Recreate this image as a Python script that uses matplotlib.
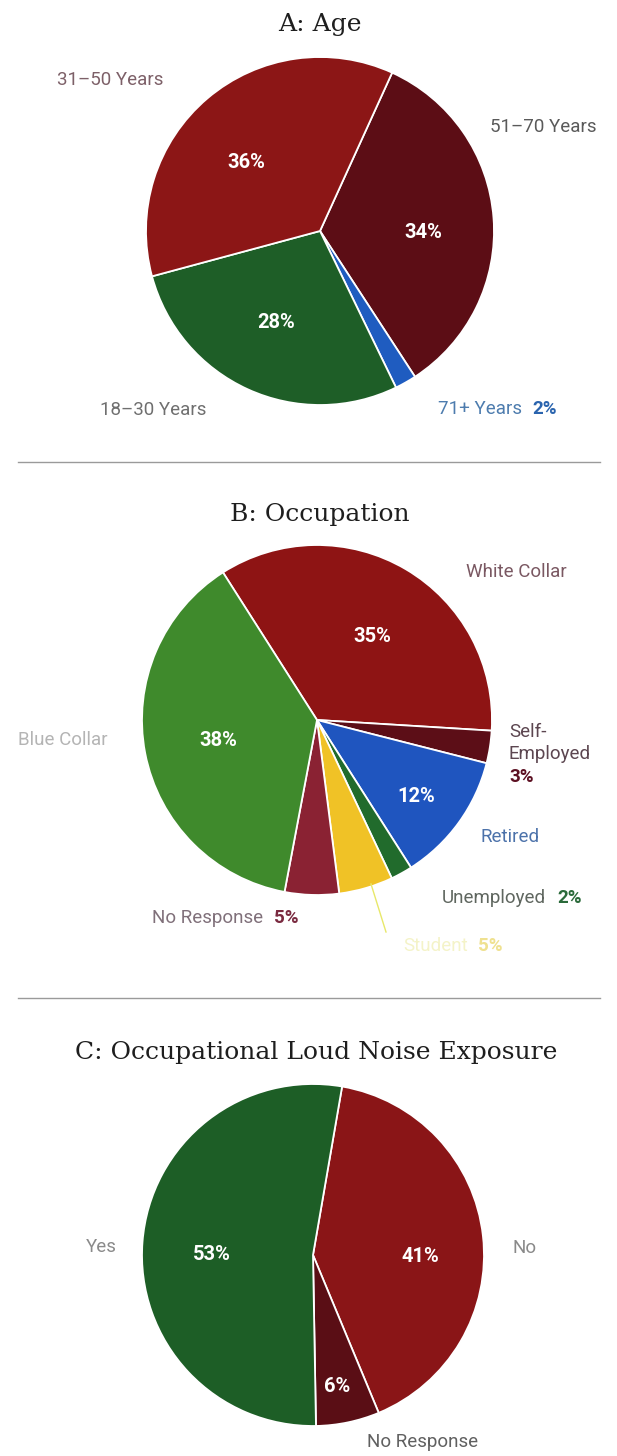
import matplotlib.pyplot as plt
from matplotlib.lines import Line2D

# A: Age
age_labels = ["51–70 Years", "71+ Years", "18–30 Years", "31–50 Years"]
age_values = [34, 2, 28, 36]
age_colors = ["#5c0d15", "#1f5cc0", "#1e5e27", "#8c1616"]

# B: Occupation
occ_labels = ["White Collar", "Self-Employed", "Retired", "Unemployed",
              "Student", "No Response", "Blue Collar"]
occ_values = [35, 3, 12, 2, 5, 5, 38]
occ_colors = ["#8e1414", "#5c0e17", "#1f55bf", "#216b2c",
              "#f0c226", "#8a2233", "#3f8a2c"]

# C: Occupational loud noise exposure
noise_labels = ["No", "No Response", "Yes"]
noise_values = [41, 6, 53]
noise_colors = ["#8a1517", "#5a0e15", "#1d5e26"]

W, H = 617, 1456
fig = plt.figure(figsize=(W / 100, H / 100), dpi=100)
ax = fig.add_axes([0, 0, 1, 1])

sans = "Roboto"
serif = "DejaVu Serif"
wedge_style = dict(edgecolor="white", linewidth=1.3)


def pie(values, colors, center, radius, start):
    # y axis is inverted later, so counterclock=True ends up clockwise
    ax.pie(values, colors=colors, center=center, radius=radius,
           startangle=-start, counterclock=True, wedgeprops=wedge_style,
           frame=True)


def label(x, y, s, color, size=13.5, weight="normal", ha="center"):
    ax.text(x, y, s, color=color, fontsize=size, fontweight=weight,
            ha=ha, va="center", family=sans)


def pct(x, y, v, color="white", size=14.5, ha="center"):
    label(x, y, f"{v}%", color, size=size, weight="bold", ha=ha)


def title(x, y, s):
    ax.text(x, y, s, ha="center", va="center", fontsize=18,
            family=serif, color="#1e1e1e")


# ---- A ----
title(320, 25, "A: Age")
pie(age_values, age_colors, (320, 231), 174, 65.5)
label(110, 80, age_labels[3], "#7d6068")
label(490, 127, age_labels[0], "#5a5a5a", ha="left")
label(153, 410, age_labels[2], "#6f6f6f")
label(522, 409, age_labels[1], "#4d7cae", ha="right")
pct(532, 409, age_values[1], "#2a64ae", size=13.5, ha="left")
pct(246, 162, age_values[3])
pct(423, 233, age_values[0])
pct(276, 322, age_values[2])

ax.add_line(Line2D([18, 600], [462, 462], color="#9a9a9a", lw=1))

# ---- B ----
title(320, 515, "B: Occupation")
pie(occ_values, occ_colors, (317, 720), 175, 122.5)
label(516, 572, occ_labels[0], "#7a5862")
pct(372, 637, occ_values[0])
pct(218, 740, occ_values[6])
label(63, 740, occ_labels[6], "#b4b4b4")
label(509, 732, "Self-", "#5c4650", ha="left")
label(509, 754, "Employed", "#5c4650", ha="left")
pct(509, 777, occ_values[1], "#5c1022", size=13.5, ha="left")
pct(416, 797, occ_values[2])
label(510, 837, occ_labels[2], "#4c72aa")
label(546, 898, occ_labels[3], "#5f665f", ha="right")
pct(557, 898, occ_values[3], "#2a6a3a", size=13.5, ha="left")
label(263, 918, occ_labels[5], "#80707a", ha="right")
pct(274, 918, occ_values[5], "#7a2a40", size=13.5, ha="left")
label(468, 946, occ_labels[4], "#f4f3c8", ha="right")
pct(478, 946, occ_values[4], "#efe190", size=13.5, ha="left")
ax.add_line(Line2D([371, 386], [884, 932], color="#e8e86a", lw=1))

ax.add_line(Line2D([18, 600], [998, 998], color="#9a9a9a", lw=1))

# ---- C ----
title(316, 1053, "C: Occupational Loud Noise Exposure")
pie(noise_values, noise_colors, (313, 1255), 171, 80.2)
label(101, 1247, noise_labels[2], "#8a8a8a")
pct(212, 1255, noise_values[2])
pct(420, 1257, noise_values[0])
label(525, 1248, noise_labels[0], "#8a8a8a")
pct(337, 1387, noise_values[1])
label(423, 1442, noise_labels[1], "#606060")

ax.set_xlim(0, W)
ax.set_ylim(H, 0)
ax.axis("off")

fig.savefig("out.png", dpi=100)
